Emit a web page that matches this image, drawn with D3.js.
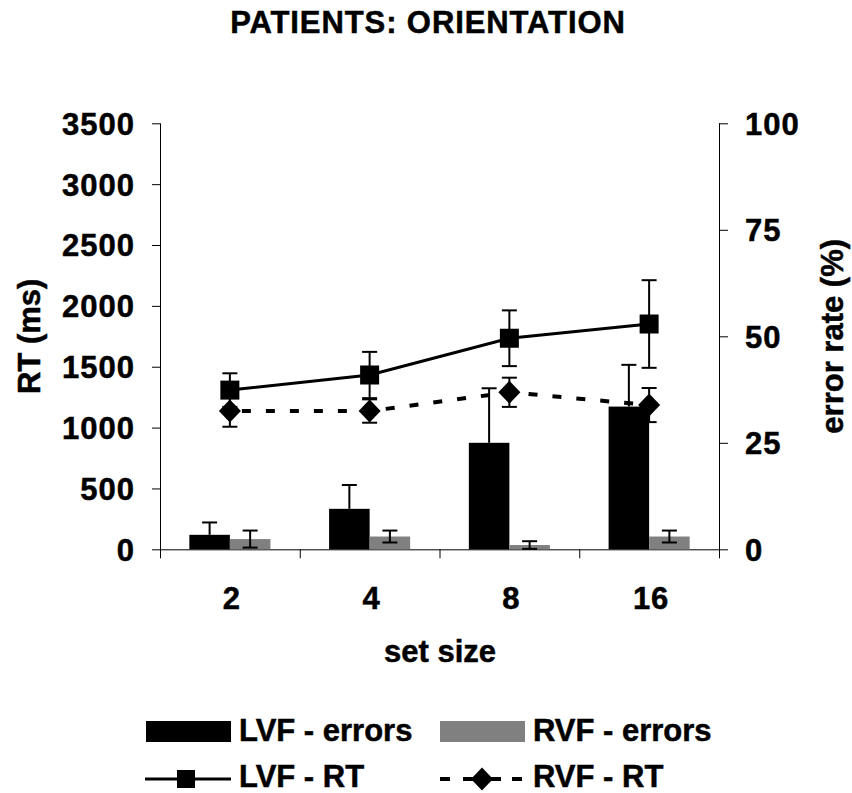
<!DOCTYPE html>
<html>
<head>
<meta charset="utf-8">
<script src="https://cdn.jsdelivr.net/npm/d3@7"></script>
<style>
  html, body { margin: 0; padding: 0; background: #fff; }
  svg text { font-family: "Liberation Sans", Arial, sans-serif; font-weight: bold; fill: #000; stroke: #000; stroke-width: 0.5px; }
</style>
</head>
<body>
<svg id="chart" width="852" height="793"></svg>
<script>
// ---- data ----
const categories = ["2", "4", "8", "16"];
const lvfErrors   = [3.4, 9.5, 25.0, 33.5];   // % (right axis)
const lvfErrorsSE = [2.9, 5.6, 12.8, 9.8];
const rvfErrors   = [2.4, 3.0, 1.0, 3.0];
const rvfErrorsSE = [2.0, 1.4, 0.9, 1.4];
const lvfRT   = [1308, 1432, 1734, 1851];     // ms (left axis)
const lvfRTSE = [138, 190, 229, 360];
const rvfRT   = [1136, 1136, 1290, 1185];
const rvfRTSE = [129, 96, 120, 140];
const rtTicks  = [0, 500, 1000, 1500, 2000, 2500, 3000, 3500];
const errTicks = [0, 25, 50, 75, 100];

const title = "PATIENTS: ORIENTATION";
const xTitle = "set size";
const yLeftTitle = "RT (ms)";
const yRightTitle = "error rate (%)";

// ---- layout ----
const L = 160, R = 719, T = 123.3, B = 549.3;
const FS = 31;
const svg = d3.select("#chart");

const x = d3.scaleBand().domain(categories).range([L, R]).paddingInner(0).paddingOuter(0);
const yRT = d3.scaleLinear().domain([0, 3500]).range([B, T]);
const yErr = d3.scaleLinear().domain([0, 100]).range([B, T]);
const cx = c => x(c) + x.bandwidth() / 2;
const barW = x.bandwidth() * 0.29;

// title
svg.append("text").attr("x", 428).attr("y", 33).attr("text-anchor", "middle")
  .style("font-size", FS + "px").style("letter-spacing", "0.9px").text(title);

// ---- axes ----
const leftAxis = d3.axisLeft(yRT).tickValues(rtTicks).tickSize(8).tickPadding(17).tickFormat(d3.format("d"));
const gL = svg.append("g").attr("transform", `translate(${L},0)`).call(leftAxis);
const rightAxis = d3.axisRight(yErr).tickValues(errTicks).tickSize(9).tickPadding(17).tickFormat(d3.format("d"));
const gR = svg.append("g").attr("transform", `translate(${R},0)`).call(rightAxis);
[gL, gR].forEach(g => {
  g.select(".domain").remove();
  g.selectAll(".tick line").attr("stroke", "#000");
  g.selectAll(".tick text").style("font-size", FS + "px")
    .style("font-family", '"Liberation Sans", Arial, sans-serif').style("font-weight", "bold")
    .style("letter-spacing", "1px")
    .attr("fill", "#000").attr("dy", "0.35em");
});
gL.selectAll(".tick text").attr("x", -25);
svg.append("line").attr("x1", L + 0.5).attr("x2", L + 0.5).attr("y1", T).attr("y2", B).attr("stroke", "#000");
svg.append("line").attr("x1", R + 0.5).attr("x2", R + 0.5).attr("y1", T).attr("y2", B).attr("stroke", "#000");

// x axis line + boundary ticks
svg.append("line").attr("x1", L).attr("x2", R).attr("y1", B + 0.5).attr("y2", B + 0.5).attr("stroke", "#000");
const boundaries = categories.map(c => x(c)).concat([R]);
svg.selectAll(".xb").data(boundaries).enter().append("line")
  .attr("x1", d => d + 0.5).attr("x2", d => d + 0.5).attr("y1", B).attr("y2", B + 9).attr("stroke", "#000");
svg.selectAll(".xl").data(categories).enter().append("text")
  .attr("x", d => cx(d) + 2).attr("y", 609).attr("text-anchor", "middle")
  .style("font-size", FS + "px").style("letter-spacing", "1px").text(d => d);

// axis titles
svg.append("text").attr("x", 440).attr("y", 662).attr("text-anchor", "middle")
  .style("font-size", FS + "px").text(xTitle);
svg.append("text").attr("transform", `translate(40,${(T + B) / 2}) rotate(-90)`)
  .attr("text-anchor", "middle").style("font-size", FS + "px").text(yLeftTitle);
svg.append("text").attr("transform", `translate(843,${(T + B) / 2}) rotate(-90)`)
  .attr("text-anchor", "middle").style("font-size", FS + "px").text(yRightTitle);

// ---- bars ----
const capW = 15;
function errBar(g, xc, v, se, scale, lower) {
  const top = scale(v + se), bot = scale(Math.max(0, v - se));
  g.append("line").attr("x1", xc).attr("x2", xc).attr("y1", top).attr("y2", lower ? bot : scale(v))
    .attr("stroke", "#000").attr("stroke-width", 2);
  g.append("line").attr("x1", xc - capW / 2).attr("x2", xc + capW / 2).attr("y1", top).attr("y2", top)
    .attr("stroke", "#000").attr("stroke-width", 2);
  if (lower) g.append("line").attr("x1", xc - capW / 2).attr("x2", xc + capW / 2).attr("y1", bot).attr("y2", bot)
    .attr("stroke", "#000").attr("stroke-width", 2);
}
const gBars = svg.append("g");
categories.forEach((c, i) => {
  const xc = cx(c);
  gBars.append("rect").attr("x", xc - barW).attr("width", barW)
    .attr("y", yErr(lvfErrors[i])).attr("height", B - yErr(lvfErrors[i])).attr("fill", "#000");
  gBars.append("rect").attr("x", xc).attr("width", barW)
    .attr("y", yErr(rvfErrors[i])).attr("height", B - yErr(rvfErrors[i])).attr("fill", "#808080");
});
categories.forEach((c, i) => {
  const xc = cx(c);
  errBar(gBars, xc - barW / 2, lvfErrors[i], lvfErrorsSE[i], yErr, false);
  errBar(gBars, xc + barW / 2, rvfErrors[i], rvfErrorsSE[i], yErr, true);
});

// ---- lines ----
const gLines = svg.append("g");
const line = d3.line().x(d => cx(d.c)).y(d => yRT(d.v));
const lvfData = categories.map((c, i) => ({ c, v: lvfRT[i], se: lvfRTSE[i] }));
const rvfData = categories.map((c, i) => ({ c, v: rvfRT[i], se: rvfRTSE[i] }));

gLines.append("path").datum(lvfData).attr("d", line).attr("fill", "none")
  .attr("stroke", "#000").attr("stroke-width", 3);
lvfData.forEach(d => errBar(gLines, cx(d.c), d.v, d.se, yRT, true));
const sq = 19;
gLines.selectAll(".sq").data(lvfData).enter().append("rect")
  .attr("x", d => cx(d.c) - sq / 2).attr("y", d => yRT(d.v) - sq / 2)
  .attr("width", sq).attr("height", sq).attr("fill", "#000");

gLines.append("path").datum(rvfData).attr("d", line).attr("fill", "none")
  .attr("stroke", "#000").attr("stroke-width", 4).attr("stroke-dasharray", "9,15").attr("stroke-dashoffset", -12);
rvfData.forEach(d => errBar(gLines, cx(d.c), d.v, d.se, yRT, true));
const dw = 11, dh = 11.5;
const diamond = (px, py) => `M${px},${py - dh}L${px + dw},${py}L${px},${py + dh}L${px - dw},${py}Z`;
gLines.selectAll(".dm").data(rvfData).enter().append("path")
  .attr("d", d => diamond(cx(d.c), yRT(d.v))).attr("fill", "#000");

// ---- legend ----
const gLeg = svg.append("g");
gLeg.append("rect").attr("x", 146).attr("y", 721).attr("width", 85).attr("height", 21).attr("fill", "#000");
gLeg.append("text").attr("x", 239).attr("y", 741).style("font-size", FS + "px").text("LVF - errors");
gLeg.append("rect").attr("x", 440).attr("y", 721).attr("width", 85).attr("height", 21).attr("fill", "#808080");
gLeg.append("text").attr("x", 533).attr("y", 741).style("font-size", FS + "px").text("RVF - errors");

gLeg.append("line").attr("x1", 145).attr("x2", 231).attr("y1", 779).attr("y2", 779)
  .attr("stroke", "#000").attr("stroke-width", 3);
gLeg.append("rect").attr("x", 186 - 9).attr("y", 779 - 9).attr("width", 18).attr("height", 18).attr("fill", "#000");
gLeg.append("text").attr("x", 239).attr("y", 787).style("font-size", FS + "px").text("LVF - RT");

[[440, 450], [463, 501], [512, 522]].forEach(s => {
  gLeg.append("line").attr("x1", s[0]).attr("x2", s[1]).attr("y1", 779).attr("y2", 779)
    .attr("stroke", "#000").attr("stroke-width", 4);
});
gLeg.append("path").attr("d", diamond(482, 779)).attr("fill", "#000");
gLeg.append("text").attr("x", 533).attr("y", 787).style("font-size", FS + "px").text("RVF - RT");
</script>
</body>
</html>
